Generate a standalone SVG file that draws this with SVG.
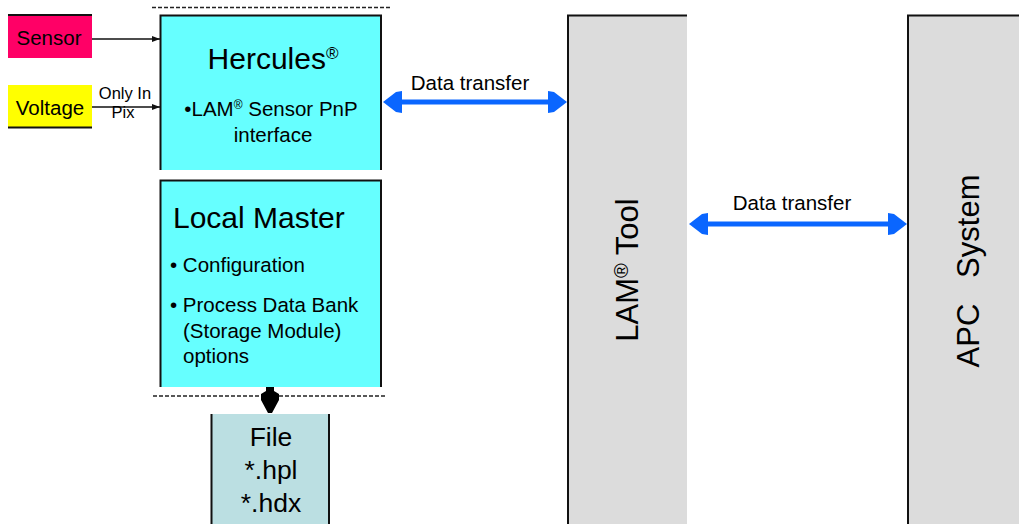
<svg xmlns="http://www.w3.org/2000/svg" width="1019" height="524" viewBox="0 0 1019 524">
<style>
text{font-family:"Liberation Sans",Arial,sans-serif;fill:#000}
.s{font-size:20.500px}
.l{font-size:30px}
.v{font-size:31px}
.f{font-size:26.500px}
.t{font-size:16.500px}
.edge{stroke:#111;stroke-width:1.500;fill:none}
.blue{stroke:#0a66ff;stroke-width:5;fill:none;marker-start:url(#bs);marker-end:url(#be)}
.dash{stroke:#222;stroke-width:1.500;stroke-dasharray:4 2;fill:none}
.bar{stroke:#111;stroke-width:2;fill:none}
</style>
<defs>
<marker id="a" markerUnits="userSpaceOnUse" markerWidth="8" markerHeight="8" refX="8" refY="4" orient="auto"><path d="M0 1L8 4L0 7Z" fill="#111"/></marker>
<marker id="be" markerUnits="userSpaceOnUse" markerWidth="22" markerHeight="24" refX="12" refY="12" orient="auto" overflow="visible"><path d="M0 1L6 2L19 12L6 22L0 23Z" fill="#0a66ff"/></marker>
<marker id="bs" markerUnits="userSpaceOnUse" markerWidth="22" markerHeight="24" refX="7" refY="12" orient="auto" overflow="visible"><path d="M19 1L13 2L0 12L13 22L19 23Z" fill="#0a66ff"/></marker>
</defs>
<g id="sensor"><rect x="8" y="15" width="84" height="43" fill="#ff0066"/><path class="bar" d="M8 15H92"/><text class="s" x="49" y="45" text-anchor="middle">Sensor</text></g>
<g id="voltage"><rect x="8" y="85" width="84" height="43" fill="#ffff00"/><path class="bar" d="M8 127.500H92"/><text class="s" x="50" y="115" text-anchor="middle">Voltage</text></g>
<g id="hercules"><path d="M160.500 170V15.500H381V170" fill="#66ffff" stroke="#111" stroke-width="2"/><text class="l" x="273" y="69" text-anchor="middle">Hercules<tspan font-size="17" dy="-10">®</tspan></text><text class="s" x="271" y="116" text-anchor="middle">•LAM<tspan font-size="12" dy="-7">®</tspan><tspan dy="7"> Sensor PnP</tspan></text><text class="s" x="273" y="142" text-anchor="middle">interface</text></g>
<g id="local-master"><path d="M160.500 387V180.500H381V387" fill="#66ffff" stroke="#111" stroke-width="2"/><text class="l" x="173" y="228">Local Master</text><text class="s" x="170" y="272">• Configuration</text><text class="s" x="170" y="312">• Process Data Bank</text><text class="s" x="183" y="338">(Storage Module)</text><text class="s" x="183" y="363">options</text></g>
<g id="file"><rect x="211" y="414" width="118" height="110" fill="#bbdfe2"/><path class="bar" d="M211.500 414V524M329 414V524"/><text class="f" x="271" y="446" text-anchor="middle">File</text><text class="f" x="271" y="479" text-anchor="middle">*.hpl</text><text class="f" x="271" y="512" text-anchor="middle">*.hdx</text></g>
<g id="lam-tool"><path d="M568 524V15.500H687V524Z" fill="#dcdcdc"/><path class="bar" d="M568 524V15.500H687"/><text class="v" transform="translate(638 270) rotate(-90)" text-anchor="middle">LAM<tspan font-size="20" dy="-10">®</tspan><tspan dy="10"> Tool</tspan></text></g>
<g id="apc"><path d="M908 524V15.500H1019V524Z" fill="#dcdcdc"/><path class="bar" d="M908 524V15.500H1019"/><text class="v" transform="translate(979 271) rotate(-90)" text-anchor="middle" xml:space="preserve">APC   System</text></g>
<g id="connectors">
<path class="edge" d="M92 39H160" marker-end="url(#a)"/>
<path class="edge" d="M92 107H160" marker-end="url(#a)"/>
<path class="dash" d="M152 7.500H390"/>
<path class="dash" d="M153 396H385"/>
<path class="blue" d="M390 102H560"/>
<path class="blue" d="M696 224H900"/>
<path d="M266 387H274V391L279 394V400L272 413H268L261 400V394L266 391Z" fill="#000"/>
</g>
<g id="labels">
<text class="t" x="125" y="99" text-anchor="middle">Only In</text>
<text class="t" x="123" y="118" text-anchor="middle">Pix</text>
<text class="s" x="470" y="90" text-anchor="middle">Data transfer</text>
<text class="s" x="792" y="210" text-anchor="middle">Data transfer</text>
</g>
</svg>
